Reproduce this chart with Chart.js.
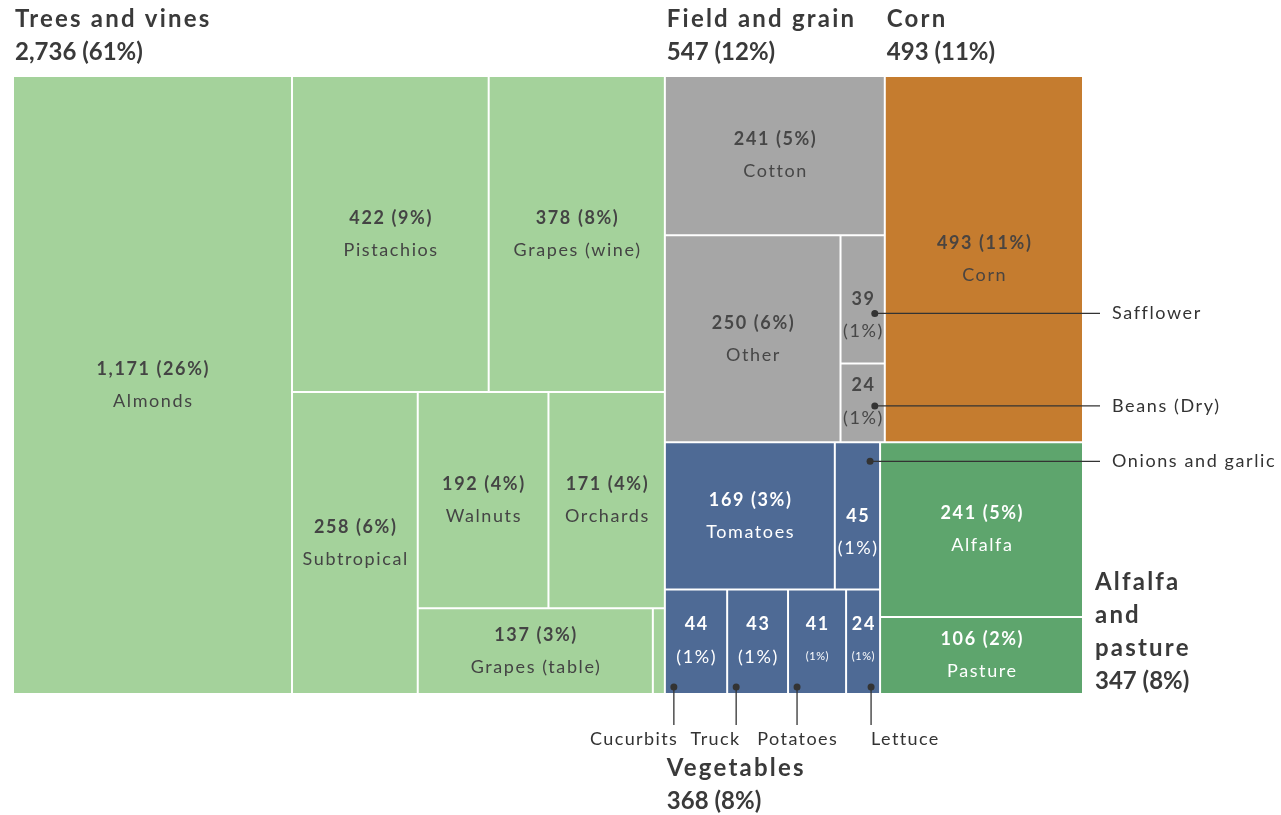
<!DOCTYPE html>
<html>
<head>
<meta charset="utf-8">
<script src="https://cdn.jsdelivr.net/npm/chart.js@4"></script>
<style>
  body { margin: 0; background: #fff; }
  #wrap { width: 1281px; height: 815px; }
</style>
</head>
<body>
<div id="wrap"><canvas id="tree"></canvas></div>
<script>
// Irrigated crop acreage by crop group (thousand acres)
const crops = ['Almonds', 'Pistachios', 'Grapes (wine)', 'Subtropical', 'Walnuts', 'Orchards', 'Grapes (table)', 'Other trees',
  'Cotton', 'Other', 'Safflower', 'Beans (Dry)',
  'Corn',
  'Tomatoes', 'Onions and garlic', 'Cucurbits', 'Truck', 'Potatoes', 'Lettuce',
  'Alfalfa', 'Pasture'];
const acres = [1171, 422, 378, 258, 192, 171, 137, 7,
  241, 250, 39, 24,
  493,
  169, 45, 44, 43, 41, 24,
  241, 106];
const shares = [26, 9, 8, 6, 4, 4, 3, 0,
  5, 6, 1, 1,
  11,
  3, 1, 1, 1, 1, 1,
  5, 2];
const cropGroup = [0, 0, 0, 0, 0, 0, 0, 0, 1, 1, 1, 1, 2, 3, 3, 3, 3, 3, 3, 4, 4];

const groups = ['Trees and vines', 'Field and grain', 'Corn', 'Vegetables', 'Alfalfa and pasture'];
const groupAcres = [2736, 547, 493, 368, 347];
const groupShares = [61, 12, 11, 8, 8];

// how each cell is split: ['x'|'y', child, child, ...]
const layoutTree = ['x',
  ['x', 'Almonds',
    ['y', ['x', 'Pistachios', 'Grapes (wine)'],
      ['x', 'Subtropical',
        ['y', ['x', 'Walnuts', 'Orchards'], ['x', 'Grapes (table)', 'Other trees']]]]],
  ['y',
    ['x', ['y', 'Cotton', ['x', 'Other', ['y', 'Safflower', 'Beans (Dry)']]], 'Corn'],
    ['x', ['y', ['x', 'Tomatoes', 'Onions and garlic'], ['x', 'Cucurbits', 'Truck', 'Potatoes', 'Lettuce']],
      ['y', 'Alfalfa', 'Pasture']]]
];

const groupColors = ['#a4d29b', '#a6a6a6', '#c57c2f', '#4e6a95', '#5ea56d'];
const groupInk = ['#444', '#474747', '#4a4440', '#fff', '#fff'];
const headerSide = ['top', 'top', 'top', 'bottom', 'right'];

// label style per cell
const labelMode = {
  'Other trees': 'none', 'Safflower': 'stackHigh', 'Onions and garlic': 'stackHigh',
  'Beans (Dry)': 'stack', 'Cucurbits': 'stack', 'Truck': 'stack',
  'Potatoes': 'tiny', 'Lettuce': 'tiny'
};
// leader lines for cells too small to carry their names
const callouts = {
  'Safflower': { side: 'right', dotY: 0.61 },
  'Beans (Dry)': { side: 'right', dotY: 0.54 },
  'Onions and garlic': { side: 'right', dotY: 0.13 },
  'Cucurbits': { side: 'bottom', dot: 'left', align: 'right' },
  'Truck': { side: 'bottom', dot: 'left', align: 'right' },
  'Potatoes': { side: 'bottom', dot: 'left', align: 'center' },
  'Lettuce': { side: 'bottom', dot: 'right', align: 'left' }
};

// rounded crop values don't add up exactly, so scale each group to its total
const groupLeafSum = groupAcres.map((_, g) => acres.reduce((s, v, i) => s + (cropGroup[i] === g ? v : 0), 0));
function weight(node) {
  if (typeof node === 'string') {
    const i = crops.indexOf(node), g = cropGroup[i];
    return acres[i] * groupAcres[g] / groupLeafSum[g];
  }
  return node.slice(1).reduce((s, n) => s + weight(n), 0);
}
function place(node, x0, y0, x1, y1, out) {
  if (typeof node === 'string') {
    out[crops.indexOf(node)] = { x0, y0, x1, y1, x: (x0 + x1) / 2, y: (y0 + y1) / 2 };
    return;
  }
  const dir = node[0], total = weight(node);
  let pos = dir === 'x' ? x0 : y0;
  node.slice(1).forEach(k => {
    const span = weight(k) / total * (dir === 'x' ? x1 - x0 : y1 - y0);
    if (dir === 'x') place(k, pos, y0, pos + span, y1, out);
    else place(k, x0, pos, x1, pos + span, out);
    pos += span;
  });
}
const cells = [];
place(layoutTree, 0, 0, 1, 1, cells);

// minimal treemap controller: every cell is a BarElement placed on the x/y scales
class TreemapLite extends Chart.DatasetController {
  update(mode) {
    const meta = this._cachedMeta;
    this.updateElements(meta.data, 0, meta.data.length, mode);
  }
  updateElements(rects, start, count, mode) {
    const xs = this._cachedMeta.xScale, ys = this._cachedMeta.yScale;
    const data = this.getDataset().data;
    for (let i = start; i < start + count; i++) {
      const d = data[i];
      const l = xs.getPixelForValue(d.x0), r = xs.getPixelForValue(d.x1);
      const t = ys.getPixelForValue(d.y0), b = ys.getPixelForValue(d.y1);
      this.updateElement(rects[i], i, {
        x: (l + r) / 2, y: Math.min(t, b), base: Math.max(t, b),
        width: Math.abs(r - l), height: Math.abs(b - t), horizontal: false,
        borderSkipped: { top: false, right: false, bottom: false, left: false },
        enableBorderRadius: false,
        inflateAmount: 0,
        options: this.resolveDataElementOptions(i, mode)
      }, mode);
    }
  }
}
TreemapLite.id = 'treemapLite';
TreemapLite.defaults = { datasetElementType: false, dataElementType: 'bar' };
Chart.register(TreemapLite);

const FONT = 'Lato, "Open Sans", sans-serif';
const fmt = v => v.toLocaleString('en-US');

function cellBox(el) {
  return { l: el.x - el.width / 2, r: el.x + el.width / 2, t: el.y, b: el.base };
}
function text(ctx, s, x, y, font, spacing) {
  ctx.font = font;
  ctx.letterSpacing = spacing + 'px';
  // letter spacing adds a trailing gap; shift centred/right text back by it
  const shift = ctx.textAlign === 'center' ? spacing / 2 : ctx.textAlign === 'right' ? spacing : 0;
  ctx.fillText(s, x + shift, y);
}

const labelPlugin = {
  id: 'cellLabels',
  afterDatasetsDraw(chart) {
    const ctx = chart.ctx, area = chart.chartArea;
    const els = chart.getDatasetMeta(0).data;
    ctx.save();
    ctx.textAlign = 'center';
    ctx.textBaseline = 'middle';
    const B18 = 'bold 18px ' + FONT, R18 = '18px ' + FONT;

    els.forEach((el, i) => {
      const c = cellBox(el), cx = (c.l + c.r) / 2, cy = (c.t + c.b) / 2;
      const mode = labelMode[crops[i]] || 'full';
      ctx.fillStyle = groupInk[cropGroup[i]];
      if (mode === 'full') {
        text(ctx, fmt(acres[i]) + ' (' + shares[i] + '%)', cx, cy - 16, B18, 1.6);
        text(ctx, crops[i], cx, cy + 16, R18, 1.6);
      } else if (mode === 'stackHigh') {
        text(ctx, fmt(acres[i]), cx, cy, B18, 1.6);
        text(ctx, '(' + shares[i] + '%)', cx, cy + 32, R18, 1.6);
      } else if (mode === 'stack' || mode === 'tiny') {
        text(ctx, fmt(acres[i]), cx, cy - 18, B18, 1.6);
        text(ctx, '(' + shares[i] + '%)', cx, cy + 15, mode === 'tiny' ? '11px ' + FONT : R18, mode === 'tiny' ? 0.6 : 1.6);
      }
    });

    // leader lines with dots
    ctx.strokeStyle = '#333';
    ctx.lineWidth = 1.3;
    Object.keys(callouts).forEach(name => {
      const i = crops.indexOf(name), co = callouts[name];
      const c = cellBox(els[i]);
      let dx, dy;
      ctx.beginPath();
      ctx.fillStyle = '#333';
      if (co.side === 'right') {
        dx = c.r - 10;
        dy = c.t + (c.b - c.t) * co.dotY;
        ctx.moveTo(dx, dy);
        ctx.lineTo(area.right + 17, dy);
        ctx.stroke();
        ctx.textAlign = 'left';
        text(ctx, name, area.right + 29, dy, R18, 1.6);
      } else {
        dx = co.dot === 'left' ? c.l + 9 : c.r - 9;
        dy = c.b - 7;
        ctx.moveTo(dx, dy);
        ctx.lineTo(dx, area.bottom + 31);
        ctx.stroke();
        ctx.textAlign = co.align;
        text(ctx, name, co.align === 'right' ? dx + 3 : dx, area.bottom + 45, R18, 1.4);
      }
      ctx.beginPath();
      ctx.arc(dx, dy, 3.5, 0, Math.PI * 2);
      ctx.fill();
    });

    // group headers
    ctx.fillStyle = '#3a3a3a';
    ctx.textAlign = 'left';
    const B24 = 'bold 24px ' + FONT;
    groups.forEach((g, gi) => {
      const boxes = els.filter((e, i) => cropGroup[i] === gi).map(cellBox);
      const l = Math.min(...boxes.map(b => b.l)), r = Math.max(...boxes.map(b => b.r));
      const t = Math.min(...boxes.map(b => b.t)), b = Math.max(...boxes.map(b => b.b));
      const total = fmt(groupAcres[gi]) + ' (' + groupShares[gi] + '%)';
      if (headerSide[gi] === 'top') {
        text(ctx, g, l + 2, t - 57, B24, 2.2);
        text(ctx, total, l + 2, t - 24, B24, 0);
      } else if (headerSide[gi] === 'bottom') {
        text(ctx, g, l + 2, b + 74, B24, 2.2);
        text(ctx, total, l + 2, b + 107, B24, 0);
      } else {
        const words = g.split(' ');
        words.forEach((s, k) => text(ctx, s, r + 12, b - 112 + k * 33, B24, 2.2));
        text(ctx, total, r + 12, b - 112 + words.length * 33, B24, 0);
      }
    });
    ctx.restore();
  }
};

new Chart(document.getElementById('tree'), {
  type: 'treemapLite',
  data: {
    labels: crops,
    datasets: [{
      data: cells,
      parsing: false,
      backgroundColor: cropGroup.map(g => groupColors[g]),
      borderColor: '#ffffff',
      borderWidth: 1,
      borderSkipped: false,
      borderRadius: 0,
      inflateAmount: 0
    }]
  },
  options: {
    responsive: true,
    maintainAspectRatio: false,
    animation: false,
    layout: { padding: { left: 13, right: 198, top: 76, bottom: 121 } },
    plugins: { legend: { display: false }, tooltip: { enabled: false } },
    events: [],
    scales: {
      x: { type: 'linear', min: 0, max: 1, display: false },
      y: { type: 'linear', min: 0, max: 1, reverse: true, display: false }
    }
  },
  plugins: [labelPlugin]
});
</script>
</body>
</html>
